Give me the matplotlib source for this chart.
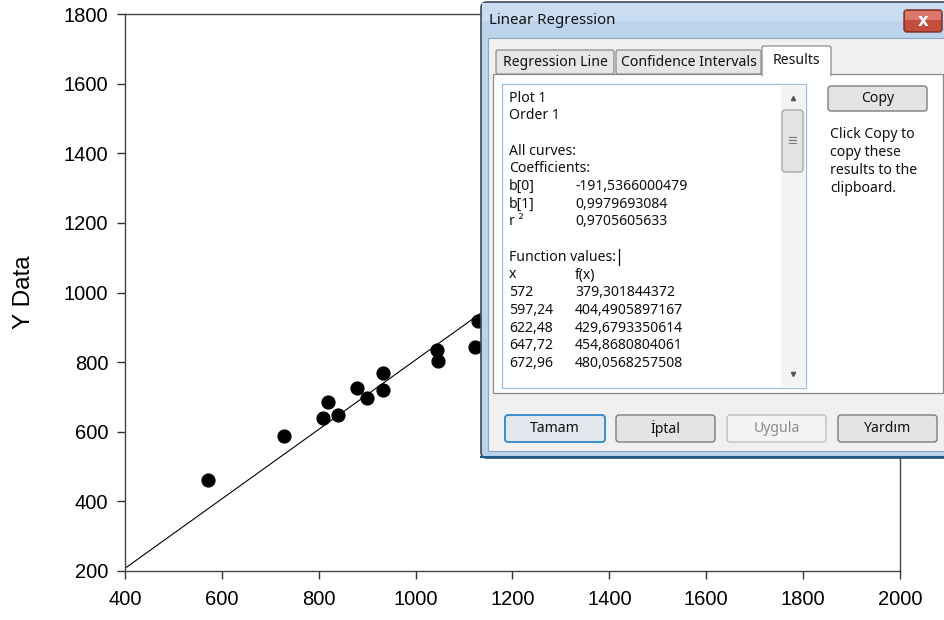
import matplotlib

matplotlib.use("Agg")
import matplotlib.pyplot as plt
from matplotlib.patches import Rectangle, FancyBboxPatch

# scatter data (points behind the dialog are not visible)
x_data = [572, 728, 809, 819, 840, 879, 900, 933, 933, 1044, 1046, 1123, 1129]
y_data = [461, 588, 640, 686, 648, 726, 697, 769, 720, 835, 803, 844, 918]

# regression coefficients shown in the dialog
b0 = -191.5366000479
b1 = 0.9979693084
line_x = [400, 2000]

x_ticks = [400, 600, 800, 1000, 1200, 1400, 1600, 1800, 2000]
y_ticks = [200, 400, 600, 800, 1000, 1200, 1400, 1600, 1800]

# dialog texts
tab_labels = ["Regression Line", "Confidence Intervals", "Results"]
result_left = ["Plot 1", "Order 1", "", "All curves:", "Coefficients:", "b[0]", "b[1]", "r \u00b2",
               "", "Function values:", "x", "572", "597,24", "622,48", "647,72", "672,96"]
result_right = ["", "", "", "", "", "-191,5366000479", "0,9979693084", "0,9705605633",
                "", "", "f(x)", "379,301844372", "404,4905897167", "429,6793350614",
                "454,8680804061", "480,0568257508"]
copy_help = ["Click Copy to", "copy these", "results to the", "clipboard."]
button_labels = ["Tamam", "\u0130ptal", "Uygula", "Yard\u0131m"]

W, H = 945, 620
fig = plt.figure(figsize=(W / 100, H / 100), dpi=100)
ax = fig.add_axes([125 / W, 1 - 571 / H, 775 / W, 557 / H])

ax.scatter(x_data, y_data, s=85, color="black", zorder=3)
ax.plot(line_x, [b0 + b1 * v for v in line_x], color="black", linewidth=0.8)
ax.set_xlim(400, 2000)
ax.set_ylim(200, 1800)
ax.set_xticks(x_ticks)
ax.set_yticks(y_ticks)
ax.tick_params(direction="out", length=6, width=1, colors="#333333", top=False, right=False)
for lab in ax.get_yticklabels() + ax.get_xticklabels():
    lab.set_fontfamily("Liberation Sans")
    lab.set_fontsize(14.5)
    lab.set_color("black")
ax.tick_params(axis="x", pad=8)
ax.tick_params(axis="y", pad=6)
ax.set_ylabel("Y Data", fontsize=17.5, family="Liberation Sans")
ax.yaxis.set_label_coords(-0.116, 0.5)
for sp in ax.spines.values():
    sp.set_color("#444444")
    sp.set_linewidth(1)

# ---- dialog overlay, drawn in pixel coordinates ----
ov = fig.add_axes([0, 0, 1, 1], zorder=10)
ov.set_xlim(0, W)
ov.set_ylim(H, 0)
ov.axis("off")
ov.patch.set_visible(False)

ui_font = "Noto Sans"
ui_size = 10.1


def rbox(x0, y0, x1, y1, fc, ec, lw=1, r=3, z=1):
    p = FancyBboxPatch((x0, y0), x1 - x0, y1 - y0, boxstyle=f"round,pad=0,rounding_size={r}",
                       fc=fc, ec=ec, lw=lw, zorder=z)
    ov.add_patch(p)


def txt(x, y, s, size=ui_size, color="#111111", ha="left", **kw):
    ov.text(x, y, s, fontsize=size, color=color, ha=ha, va="center", family=ui_font, **kw)


# window frame and title bar
rbox(481, 2, 960, 458, "#bcd3ec", "#404a55", lw=1.2, r=6, z=1)
ov.add_patch(Rectangle((482, 3), 470, 18, fc="#c9dcf1", ec="none", zorder=1.5))
ov.add_patch(Rectangle((488, 38), 470, 413, fc="#f0f0f0", ec="#8ea6c0", lw=0.8, zorder=2))
ov.plot([481, 960], [457, 457], color="#1c5a8c", lw=1.5, zorder=2)
txt(489, 21, "Linear Regression", size=10.8)

# close button
rbox(904, 10, 942, 32, "#c44d3d", "#7a2a20", lw=1, r=3, z=3)
ov.add_patch(Rectangle((905, 11), 36, 9, fc="#d9786b", ec="none", zorder=3.2))
ov.text(923, 20.5, "x", fontsize=12, fontweight="bold", color="white", ha="center", va="center",
        family="DejaVu Sans", zorder=4)

# tab panel and tabs
ov.add_patch(Rectangle((493, 74), 450, 319, fc="white", ec="#898c95", lw=0.9, zorder=3))
tab_x = [(496, 614), (616, 761)]
for (a, b), lab in zip(tab_x, tab_labels[:2]):
    rbox(a, 50, b, 74, "#e6e6e6", "#898c95", lw=0.9, r=2, z=3)
    txt((a + b) / 2, 63, lab, ha="center", zorder=4)
rbox(762, 46, 831, 76, "white", "#898c95", lw=0.9, r=2, z=3)
ov.add_patch(Rectangle((763, 72), 67, 6, fc="white", ec="none", zorder=3.5))
txt(796.5, 60, tab_labels[2], ha="center", zorder=4)

# results text box with scrollbar
ov.add_patch(Rectangle((502, 84), 304, 304, fc="white", ec="#9fbfdc", lw=0.9, zorder=4))
ov.add_patch(Rectangle((781, 85), 24, 302, fc="#f3f3f3", ec="none", zorder=4.2))
rbox(782, 110, 803, 172, "#e4e4e4", "#9a9a9a", lw=0.8, r=3, z=4.5)
for yy in (137, 140, 143):
    ov.plot([789, 796], [yy, yy], color="#777777", lw=0.8, zorder=5)
ov.plot([792.5], [98], marker="^", ms=3, color="#555555", zorder=5)
ov.plot([792.5], [374], marker="v", ms=3, color="#555555", zorder=5)

line_y0, step = 98, 17.7
for i, (l, r) in enumerate(zip(result_left, result_right)):
    yy = line_y0 + i * step
    if l:
        txt(509, yy, l, zorder=5)
    if r:
        txt(575, yy, r, zorder=5)
ov.plot([619, 619], [line_y0 + 9 * step - 8, line_y0 + 9 * step + 8], color="black", lw=0.9, zorder=5)

# copy button and help text
rbox(828, 86, 927, 111, "#e4e4e4", "#707070", lw=0.9, r=3, z=4)
txt(877.5, 98.5, "Copy", ha="center", zorder=5)
for i, s in enumerate(copy_help):
    txt(830, 135 + i * 18, s, zorder=5)

# bottom buttons
btn_x = [(505, 605), (616, 715), (727, 826), (838, 937)]
for (a, b), lab in zip(btn_x, button_labels):
    if lab == "Tamam":
        rbox(a, 415, b, 442, "#e2e8ee", "#3c8ec8", lw=1.4, r=3, z=4)
        col = "#111111"
    elif lab == "Uygula":
        rbox(a, 415, b, 442, "#f4f4f4", "#b5b9bc", lw=0.9, r=3, z=4)
        col = "#8a8a8a"
    else:
        rbox(a, 415, b, 442, "#e4e4e4", "#707070", lw=0.9, r=3, z=4)
        col = "#111111"
    txt((a + b) / 2, 428.5, lab, color=col, ha="center", zorder=5)

fig.savefig("out.png", dpi=100)
